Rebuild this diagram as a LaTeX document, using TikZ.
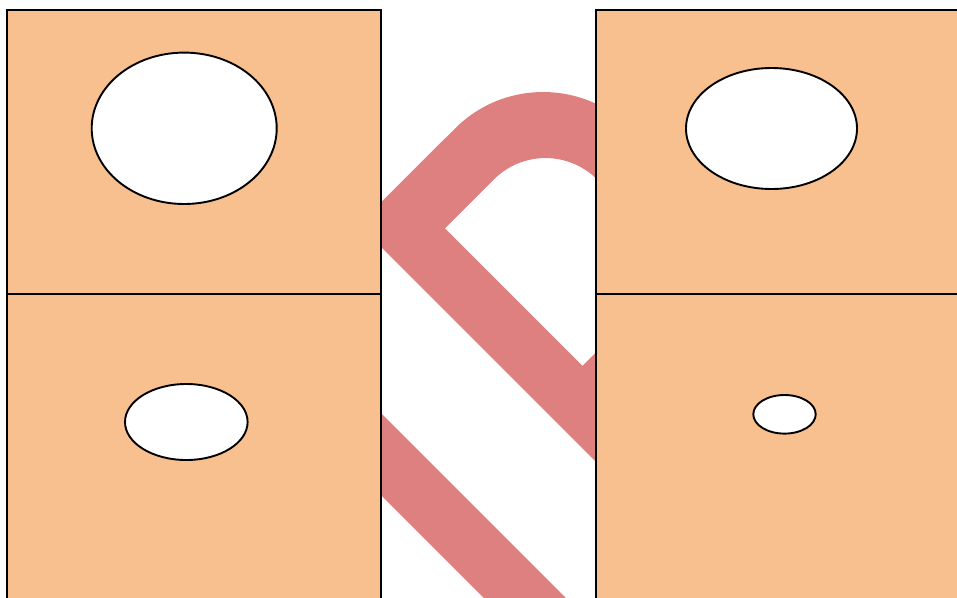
\documentclass[tikz,border=0pt]{standalone}
\definecolor{boxfill}{RGB}{248,191,143}
\definecolor{ribboncol}{RGB}{223,128,128}
\begin{document}
\begin{tikzpicture}[x=1pt,y=-1pt,
  boxstyle/.style={fill=boxfill,draw=black,line width=1.9pt},
  hole/.style={fill=white,draw=black,line width=1.9pt},
  ribbon/.style={fill=ribboncol}]
\useasboundingbox (0,0) rectangle (957,597);
\clip (0,0) rectangle (957,597);
% ribbons behind the panels
\fill[ribbon] (358.7,224.7) -- (455,128.5)
  arc[start angle=225,end angle=315,radius=124.6]
  -- (614.0,206.0)
  arc[start angle=340,end angle=225,radius=72.9]
  -- (445,228.3) -- (582.5,365.8) -- (620,328.3) -- (620,486) -- cycle;
\fill[ribbon] (370,402) -- (600,632) -- (518,632) -- (370,484) -- cycle;
% panels
\draw[boxstyle] (7,10) rectangle (381,294);
\draw[boxstyle] (7,294) rectangle (381,620);
\draw[boxstyle] (596,10) rectangle (980,294);
\draw[boxstyle] (596,294) rectangle (980,620);
% holes
\draw[hole] (184.2,128.3) ellipse [x radius=92.5, y radius=75.7];
\draw[hole] (771.5,128.5) ellipse [x radius=85.5, y radius=60.5];
\draw[hole] (186.3,422) ellipse [x radius=61.3, y radius=38];
\draw[hole] (784.5,414.3) ellipse [x radius=31.2, y radius=19.3];
\end{tikzpicture}
\end{document}
